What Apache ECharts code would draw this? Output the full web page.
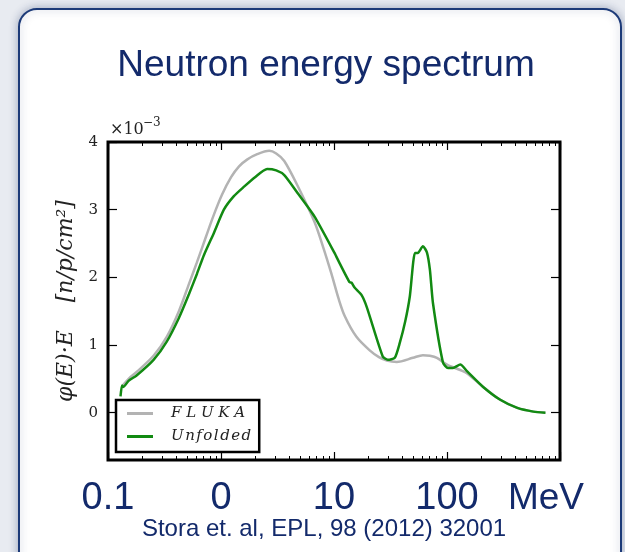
<!DOCTYPE html>
<html>
<head>
<meta charset="utf-8">
<script src="https://cdn.jsdelivr.net/npm/echarts@6/dist/echarts.min.js"></script>
<style>
  html, body { margin: 0; padding: 0; background: #e8ebf1; }
  #chart { width: 625px; height: 552px; }
</style>
</head>
<body>
<div id="chart"></div>
<script>
// Neutron energy spectrum: phi(E)*E in units of 1e-3 n/p/cm^2, energies in MeV
const flukaEnergy = [0.135, 0.152, 0.179, 0.253, 0.331, 0.424, 0.52, 0.612, 0.736, 0.867, 1.02, 1.228, 1.445, 1.70, 2.09, 2.67, 3.08, 3.63, 4.74, 6.71, 8.0, 9.5, 11.0, 12.5, 15.8, 20.7, 25.0, 29.3, 35.9, 49.9, 61.2, 70.6, 81.4, 100, 131, 151, 209, 296, 419, 581, 743];
const flukaValue  = [0.40, 0.50, 0.60, 0.84, 1.12, 1.50, 1.90, 2.22, 2.60, 2.93, 3.22, 3.48, 3.64, 3.74, 3.82, 3.87, 3.83, 3.72, 3.36, 2.82, 2.45, 2.05, 1.68, 1.42, 1.12, 0.92, 0.82, 0.77, 0.75, 0.81, 0.85, 0.84, 0.81, 0.71, 0.63, 0.58, 0.38, 0.19, 0.07, 0.015, 0.0];

const unfoldedEnergy = [0.129, 0.133, 0.137, 0.152, 0.179, 0.253, 0.331, 0.424, 0.52, 0.612, 0.707, 0.867, 1.06, 1.30, 1.60, 2.0, 2.56, 3.08, 3.63, 4.74, 6.71, 10.1, 11.2, 13.7, 14.3, 15.2, 17.5, 19.5, 27.0, 29.9, 34.5, 38.2, 42.7, 46.9, 52.0, 55.2, 61.2, 66.4, 70.6, 75.1, 92.1, 102, 113, 131, 151, 209, 296, 419, 581, 743];
const unfoldedValue  = [0.24, 0.40, 0.38, 0.47, 0.55, 0.78, 1.05, 1.40, 1.75, 2.05, 2.33, 2.66, 3.00, 3.20, 3.34, 3.48, 3.60, 3.58, 3.51, 3.25, 2.90, 2.36, 2.21, 1.93, 1.92, 1.85, 1.74, 1.56, 0.83, 0.78, 0.81, 1.03, 1.35, 1.72, 2.36, 2.36, 2.46, 2.37, 2.11, 1.62, 0.74, 0.66, 0.66, 0.71, 0.61, 0.38, 0.19, 0.07, 0.015, 0.0];

const seriesNames = ['FLUKA', 'Unfolded'];

// Energy axis: decade ticks and their printed labels
const xMajorTicks = [0.1, 1, 10, 100, 1000];
const xTickLabels = ['0.1', '0', '10', '100', 'MeV'];
const xMinorTicks = [];
[0.1, 1, 10, 100].forEach(d => { for (let k = 2; k <= 9; k++) xMinorTicks.push(+(d * k).toPrecision(3)); });

const yTicks = [0, 1, 2, 3, 4];

const navy = '#132a6b';
const sans = '"Liberation Sans", Arial, sans-serif';
const serif = '"DejaVu Serif", "Liberation Serif", serif';

const pairs = (xs, ys) => xs.map((x, i) => [x, ys[i]]);

const chart = echarts.init(document.getElementById('chart'), null, { renderer: 'canvas' });

const logAxis = (extra) => Object.assign({
  type: 'log', logBase: 10, min: 0.1, max: 1000, gridIndex: 0,
  axisLine: { show: false, onZero: false }, splitLine: { show: false }
}, extra);

const tickLine = { color: '#000', width: 1.2 };

chart.setOption({
  animation: false,
  backgroundColor: '#e8ebf1',
  graphic: [
    {
      type: 'rect', z: -10,
      shape: { x: 19, y: 9, width: 602, height: 580, r: 18 },
      style: { fill: '#ffffff', stroke: '#1c3a78', lineWidth: 2, shadowBlur: 8, shadowColor: 'rgba(40,60,110,0.35)' }
    },
    {
      type: 'text', z: 10,
      style: { x: 326, y: 66, text: 'Neutron energy spectrum', align: 'center', verticalAlign: 'middle',
               font: '37px ' + sans, fill: navy }
    },
    {
      type: 'text', z: 10,
      style: { x: 324, y: 529, text: 'Stora et. al, EPL, 98 (2012) 32001', align: 'center', verticalAlign: 'middle',
               font: '24px ' + sans, fill: navy }
    },
    {
      type: 'text', z: 10,
      style: { x: 110, y: 130, text: '×10', align: 'left', verticalAlign: 'middle',
               font: '16px ' + serif, fill: '#222' }
    },
    {
      type: 'text', z: 10,
      style: { x: 143, y: 123, text: '−3', align: 'left', verticalAlign: 'middle',
               font: '12px ' + serif, fill: '#222' }
    }
  ],
  grid: {
    left: 108, right: 65, top: 142, bottom: 92,
    show: true, borderColor: '#000', borderWidth: 3, backgroundColor: 'transparent'
  },
  legend: {
    orient: 'vertical', left: 116, top: 400,
    data: seriesNames,
    icon: 'rect', itemWidth: 26, itemHeight: 3, itemGap: 8,
    padding: [6, 8, 8, 11],
    backgroundColor: '#fff', borderColor: '#000', borderWidth: 2.5, borderRadius: 0,
    formatter: name => name.split('').join(name === 'FLUKA' ? ' ' : '\u200A'),
    textStyle: { fontFamily: serif, fontStyle: 'italic', fontSize: 15, color: '#222', padding: [0, 0, 0, 13] }
  },
  xAxis: [
    logAxis({
      position: 'bottom',
      axisTick: { inside: true, length: 8, customValues: xMajorTicks, lineStyle: tickLine },
      axisLabel: {
        customValues: xMajorTicks, margin: 20, color: navy, fontSize: 38, fontFamily: sans,
        formatter: v => {
          const i = xMajorTicks.findIndex(t => Math.abs(Math.log10(t) - Math.log10(v)) < 1e-6);
          const s = i >= 0 ? xTickLabels[i] : '';
          return i === xMajorTicks.length - 1 ? '{u|' + s + '}' : s;
        },
        rich: { u: { fontSize: 37, color: navy, fontFamily: sans, padding: [0, 28, 0, 0] } }
      }
    }),
    logAxis({
      position: 'bottom',
      axisTick: { inside: true, length: 4, customValues: xMinorTicks, lineStyle: { color: '#000', width: 1 } },
      axisLabel: { show: false }
    }),
    logAxis({
      position: 'top',
      axisTick: { inside: true, length: 8, customValues: xMajorTicks, lineStyle: tickLine },
      axisLabel: { show: false }
    }),
    logAxis({
      position: 'top',
      axisTick: { inside: true, length: 4, customValues: xMinorTicks, lineStyle: { color: '#000', width: 1 } },
      axisLabel: { show: false }
    })
  ],
  yAxis: [
    {
      type: 'value', min: -0.7, max: 4, position: 'left',
      axisLine: { show: false, onZero: false }, splitLine: { show: false },
      axisTick: { inside: true, length: 9, customValues: yTicks, lineStyle: tickLine },
      axisLabel: { customValues: yTicks, margin: 10, fontFamily: serif, fontSize: 15, color: '#222' },
      name: 'φ(E)·E    [n/p/cm²]', nameLocation: 'middle', nameRotate: 90, nameGap: 30,
      nameTextStyle: { fontFamily: serif, fontStyle: 'italic', fontSize: 22, color: '#222' }
    },
    {
      type: 'value', min: -0.7, max: 4, position: 'right',
      axisLine: { show: false, onZero: false }, splitLine: { show: false },
      axisTick: { inside: true, length: 9, customValues: yTicks, lineStyle: tickLine },
      axisLabel: { show: false }
    }
  ],
  series: [
    {
      name: seriesNames[0], type: 'line', xAxisIndex: 0, yAxisIndex: 0,
      data: pairs(flukaEnergy, flukaValue), showSymbol: false, symbol: 'none', smooth: 0.3,
      lineStyle: { color: '#b3b3b3', width: 2.5 }, itemStyle: { color: '#b3b3b3' }, z: 2
    },
    {
      name: seriesNames[1], type: 'line', xAxisIndex: 0, yAxisIndex: 0,
      data: pairs(unfoldedEnergy, unfoldedValue), showSymbol: false, symbol: 'none', smooth: 0.2,
      lineStyle: { color: '#128a12', width: 2.5 }, itemStyle: { color: '#128a12' }, z: 3
    }
  ]
});
</script>
</body>
</html>
